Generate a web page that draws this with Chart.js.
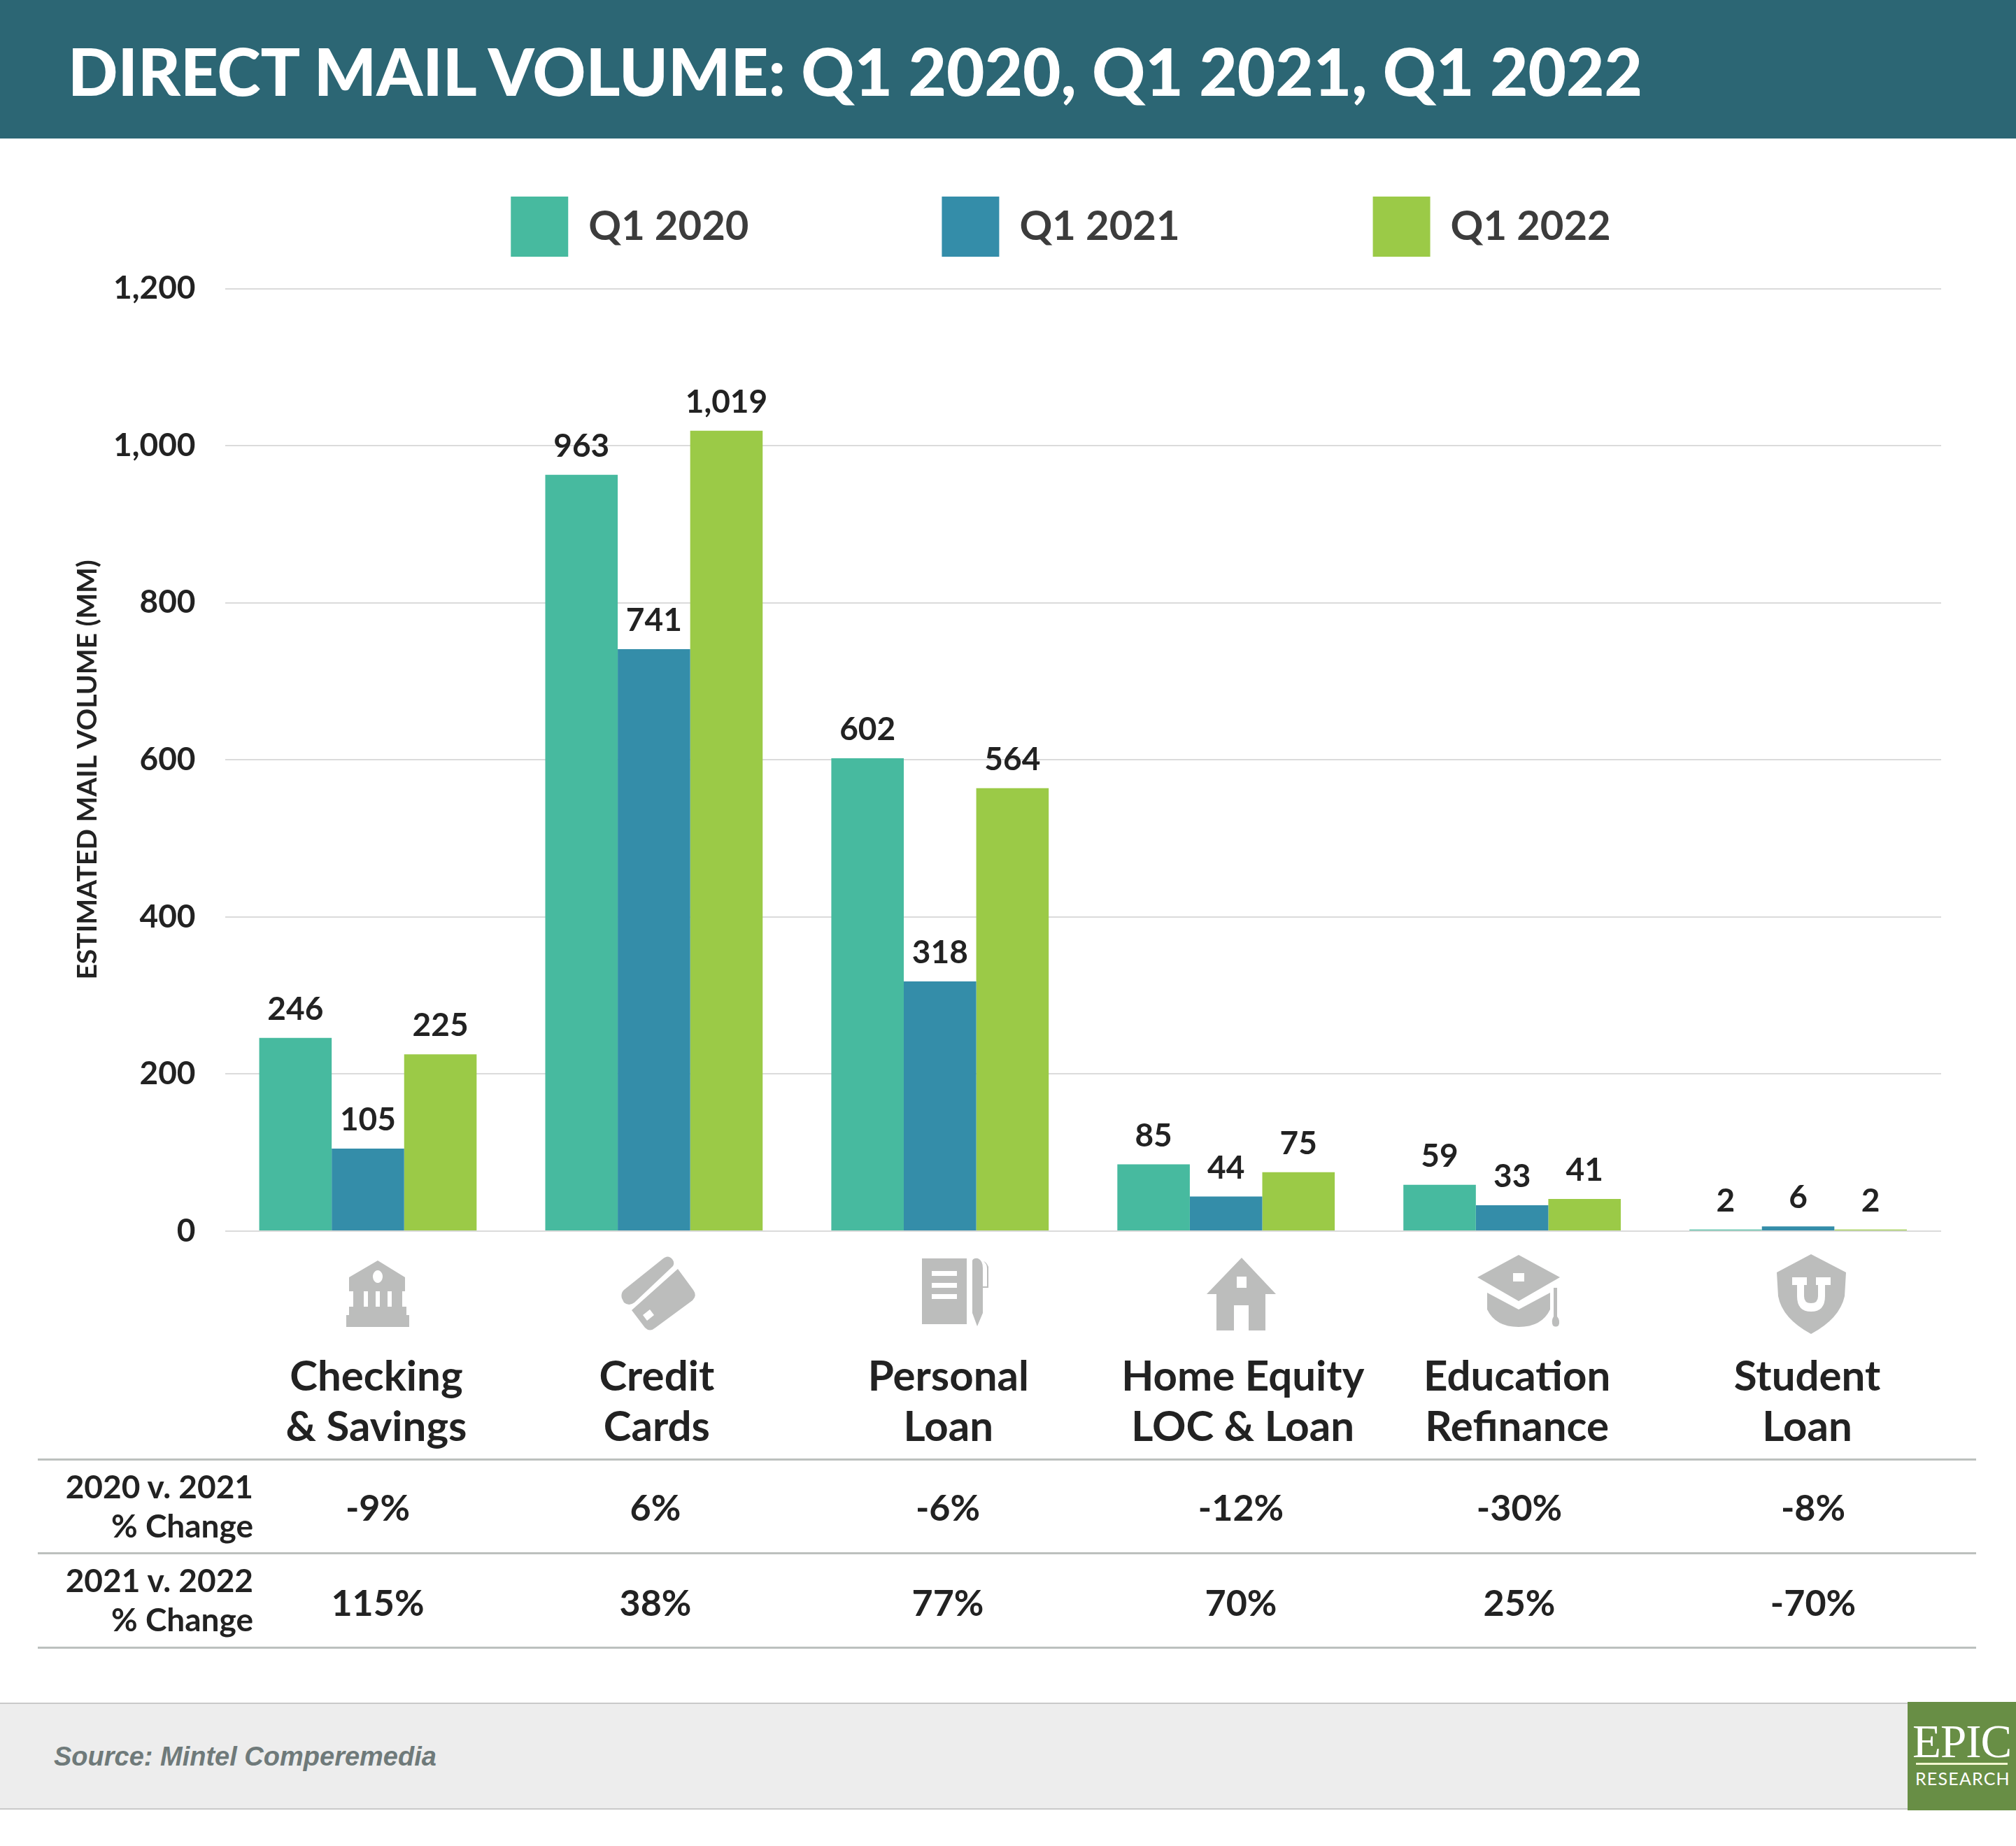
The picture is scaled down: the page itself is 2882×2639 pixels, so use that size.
<!DOCTYPE html>
<html><head><meta charset="utf-8">
<style>
html,body{margin:0;padding:0;background:#fff;}
#page{position:relative;width:2882px;height:2639px;overflow:hidden;font-family:Lato,sans-serif;font-weight:700;color:#222;}
#page>*{position:absolute;}
canvas{left:0;top:0;}
.t{white-space:nowrap;line-height:1;}
.rule{height:3px;background:#bcc0be;left:54px;width:2771px;}
svg{overflow:visible;}
</style></head><body>
<div id="page">
<div style="left:0;top:0;width:2882px;height:198px;background:#2c6674"></div>
<div class="t" id="title" style="left:97px;top:54px;font-size:94px;font-weight:900;color:#fff">DIRECT MAIL VOLUME: Q1 2020, Q1 2021, Q1 2022</div>
<canvas id="c" width="2882" height="2639" style="width:2882px;height:2639px"></canvas>
<div class="rule" style="top:2085px"></div><div class="rule" style="top:2219px"></div><div class="rule" style="top:2354px"></div>
<div style="left:0;top:2434px;width:2882px;height:153px;background:#ededed;border-top:2px solid #c9c9c9;border-bottom:2px solid #c9c9c9;box-sizing:border-box"></div>
<div class="t" style="left:77px;top:2490px;font:italic 700 38px 'Liberation Sans',sans-serif;color:#6f7a7a">Source: Mintel Comperemedia</div>
<div style="left:2727px;top:2433px;width:155px;height:155px;background:#688e45"></div>
<div class="t" style="left:2734px;top:2451px;font:400 67px 'Liberation Serif',serif;color:#fff;letter-spacing:-1px">EPIC</div>
<div style="left:2739px;top:2520px;width:131px;height:3px;background:#f2f6cf"></div>
<div class="t" style="left:2738px;top:2527px;font:400 25px Lato,sans-serif;color:#fff;letter-spacing:1.2px">RESEARCH</div>

<svg style="left:495px;top:1802px" width="90" height="95" fill="#bcbdbc"><path fill-rule="evenodd" d="M45 0L84 24 84 44 4 44 4 24ZM45 14a7 9 0 1 0 .01 0Z"/><path d="M10 44H25V70H10ZM31 44H42V70H31ZM48 44H59V70H48ZM65 44H80V70H65ZM4 66H86V80H4ZM0 78H90V95H0Z"/></svg>
<svg style="left:887px;top:1796px" width="108" height="107" fill="#bcbdbc"><path d="M60 4Q68-3 74 4Q78 9 75 14L20 66Q12 72 5 66L2 60Q0 53 5 48Z"/><path fill-rule="evenodd" d="M82 18L104 48Q110 56 103 63L50 102Q42 109 35 102L16 77ZM42 76L32 84 38 92 48 84Z"/></svg>
<svg style="left:1318px;top:1799px" width="98" height="97" fill="#bcbdbc"><path fill-rule="evenodd" d="M0 0H64V94H0ZM14 18V25H50V18ZM14 35V42H50V35ZM14 51V58H50V51Z"/><path d="M72 3Q74-1 80 0Q87 3 87 14V40H93V14Q93 8 88 4Q92 5 95 12V42H87V78L79 97 72 78Z"/></svg>
<svg style="left:1725px;top:1798px" width="99" height="104" fill="#bcbdbc"><path fill-rule="evenodd" d="M50 0L99 52 84 52V104H60V68H39V104H14V52H0ZM43 27V43H57V27Z"/></svg>
<svg style="left:2112px;top:1794px" width="119" height="103" fill="#bcbdbc"><path fill-rule="evenodd" d="M59 0L118 32 59 66 0 32ZM51 26V38H67V26Z"/><path d="M14 54L59 78 104 54V78Q92 103 59 103 26 103 14 78ZM109 47H114V88Q119 94 116 101 112 104 108 101 105 94 109 88Z"/></svg>
<svg style="left:2540px;top:1793px" width="99" height="114" fill="#bcbdbc"><path fill-rule="evenodd" d="M49 0L99 26 97 60Q90 92 49 114 8 92 2 60L0 26ZM22 33V44H29V60Q29 82 49 82 69 82 69 60V44H77V33H56V44H59V60Q59 70 49 70 39 70 39 60V44H43V33Z"/></svg>
</div>
<script src="https://cdn.jsdelivr.net/npm/chart.js@4/dist/chart.umd.min.js"></script>
<script>
const categories=[["Checking","& Savings"],["Credit","Cards"],["Personal","Loan"],["Home Equity","LOC & Loan"],["Education","Refinance"],["Student","Loan"]];
const seriesNames=["Q1 2020","Q1 2021","Q1 2022"];
const q1_2020=[246,963,602,85,59,2];
const q1_2021=[105,741,318,44,33,6];
const q1_2022=[225,1019,564,75,41,2];
const yTicks=[0,200,400,600,800,1000,1200];
const rowHead1=["2020 v. 2021","% Change"];
const rowHead2=["2021 v. 2022","% Change"];
const change2020v2021=["-9%","6%","-6%","-12%","-30%","-8%"];
const change2021v2022=["115%","38%","77%","70%","25%","-70%"];

const colors=["#47ba9f","#348da9","#9bca47"];
const labelNudge=[12,4,12,24,7,13];
const colCentres=[540,937,1355,1774,2172,2592];
const fmt=v=>v.toLocaleString('en-US');

const page=document.getElementById('page');
function text(s,css){const d=document.createElement('div');d.className='t';d.textContent=s;d.style.cssText=css;page.appendChild(d);}
[[rowHead1,2102,2158],[rowHead2,2236,2292]].forEach(([h,a,b])=>{
  text(h[0],`right:${2882-362}px;top:${a}px;font-size:46px`);
  text(h[1],`right:${2882-362}px;top:${b}px;font-size:46px`);
});
[[change2020v2021,2128],[change2021v2022,2264]].forEach(([r,top])=>{
  r.forEach((v,i)=>text(v,`left:${colCentres[i]}px;top:${top}px;font-size:52px;transform:translateX(-50%)`));
});

const barLabels={id:'barLabels',afterDatasetsDraw(chart){
  const c=chart.ctx;c.save();c.font='700 46px Lato';c.fillStyle='#222';c.textAlign='center';c.textBaseline='alphabetic';
  chart.data.datasets.forEach((ds,di)=>{chart.getDatasetMeta(di).data.forEach((b,i)=>{
    c.fillText(fmt(ds.data[i]),b.x,b.y-26);
  });});
  c.restore();
}};
const layoutTweaks={id:'layoutTweaks',
  afterUpdate(chart){const l=chart.legend;l.left+=129;l.right+=129;l.top=5;},
  beforeDraw(chart){const s=chart.scales.x;
    s.getLabelItems(chart.chartArea).forEach((it,i)=>{if(!it._n){it._n=1;it.options.translation[0]+=labelNudge[i];}});
  }
};
document.fonts.load('700 44px Lato').then(()=>document.fonts.load('900 92px Lato')).finally(()=>{
new Chart(document.getElementById('c'),{
  type:'bar',
  data:{labels:categories,datasets:[q1_2020,q1_2021,q1_2022].map((d,i)=>({label:seriesNames[i],data:d,backgroundColor:colors[i],borderWidth:0,categoryPercentage:.76,barPercentage:1}))},
  plugins:[barLabels,layoutTweaks],
  options:{
    responsive:false,animation:false,devicePixelRatio:1,
    layout:{padding:{top:40.5,bottom:539,left:0,right:107}},
    plugins:{
      tooltip:{enabled:false},title:{display:false},
      legend:{display:true,position:'top',
        labels:{boxWidth:82,boxHeight:86,padding:276,color:'#3c3c3c',font:{family:'Lato',size:58,weight:'700'}}}
    },
    scales:{
      x:{grid:{display:false},border:{display:false},afterFit(s){s.height=340;},
        ticks:{autoSkip:false,maxRotation:0,minRotation:0,padding:165,color:'#222',font:{family:'Lato',size:60,weight:'700',lineHeight:1.2}}},
      y:{min:0,max:1200,afterFit(s){s.width=321.5;},
        afterBuildTicks(s){s.ticks=yTicks.map(v=>({value:v}));},
        grid:{color:'#dbdbdb',lineWidth:2,drawTicks:false},border:{display:false},
        title:{display:true,text:'ESTIMATED MAIL VOLUME (MM)   ',color:'#222',padding:{top:102,bottom:0},font:{family:'Lato',size:39,weight:'700'}},
        ticks:{padding:42,color:'#222',callback:v=>fmt(v),font:{family:'Lato',size:46,weight:'700'}}}
    }
  }
});
});
</script>
</body></html>
